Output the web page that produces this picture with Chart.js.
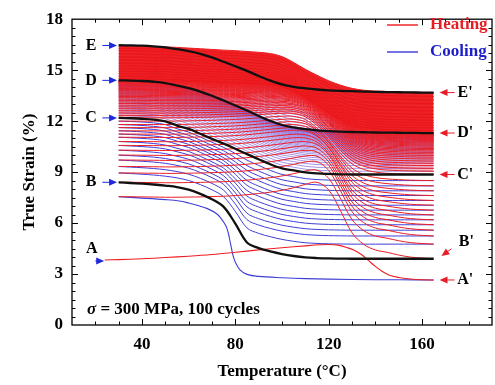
<!DOCTYPE html>
<html>
<head>
<meta charset="utf-8">
<script src="https://cdn.jsdelivr.net/npm/chart.js@4.4.0/dist/chart.umd.min.js"></script>
<style>
  html, body { margin: 0; padding: 0; background: #fff; }
</style>
</head>
<body>
<canvas id="myChart" width="495" height="385"></canvas>
<script>
// temperature grid (°C) used for the cycle curves
const tempGrid = [30, 35, 40, 45, 50, 55, 60, 65, 70, 75, 80, 85, 90, 95, 100, 105, 110, 115, 120, 125, 130, 135, 140, 145, 150, 155, 160, 165]

// curve shapes, as fraction of the way from hot strain (0) to cold strain (1)
// early = cycle 2, mid = cycle 16 (C), late = cycle 100 (E)
const heatEarly = [1, 1, 0.997, 0.995, 0.992, 0.992, 0.995, 0.997, 1.003, 1.008, 1.019, 1.033, 1.052, 1.074, 1.104, 1.145, 1.2, 1.233, 1.11, 0.781, 0.419, 0.233, 0.142, 0.104, 0.06, 0.027, 0.011, 0]
const heatMid = [1, 1, 1, 1, 1, 1.002, 1.005, 1.01, 1.016, 1.024, 1.032, 1.045, 1.062, 1.08, 1.092, 1.09, 1.03, 0.87, 0.65, 0.4, 0.2, 0.095, 0.045, 0.022, 0.012, 0.006, 0.002, 0]
const heatLate = [1, 1, 0.996, 0.989, 0.982, 0.971, 0.956, 0.942, 0.927, 0.912, 0.901, 0.883, 0.865, 0.839, 0.774, 0.646, 0.5, 0.372, 0.255, 0.161, 0.091, 0.051, 0.033, 0.022, 0.015, 0.007, 0.004, 0]
const coolEarly = [1, 0.991, 0.982, 0.971, 0.956, 0.938, 0.904, 0.849, 0.778, 0.678, 0.46, 0.213, 0.138, 0.096, 0.062, 0.036, 0.018, 0.009, 0.004, 0.002, 0, 0, 0, 0, 0, 0, 0, 0]
const coolMid = [1, 0.994, 0.985, 0.97, 0.94, 0.865, 0.805, 0.719, 0.63, 0.545, 0.455, 0.359, 0.269, 0.18, 0.108, 0.072, 0.036, 0.018, 0.009, 0.003, 0, 0, 0, 0, 0, 0, 0, 0]
const coolLate = [1, 0.996, 0.989, 0.975, 0.953, 0.917, 0.874, 0.819, 0.744, 0.65, 0.556, 0.458, 0.35, 0.253, 0.173, 0.123, 0.09, 0.065, 0.047, 0.036, 0.029, 0.022, 0.014, 0.011, 0.007, 0.004, 0, 0]

// first cycle, read point by point
const cycle1HeatT = [24, 30, 40, 50, 60, 70, 80, 90, 100, 110, 116, 120, 124, 128, 131, 134, 137, 140, 143, 146, 150, 155, 160, 165]
const cycle1HeatS = [3.83, 3.85, 3.9, 3.97, 4.05, 4.15, 4.28, 4.42, 4.55, 4.66, 4.72, 4.74, 4.7, 4.55, 4.4, 4.15, 3.8, 3.45, 3.15, 2.93, 2.8, 2.71, 2.66, 2.65]
const cycle1CoolT = [165, 150, 130, 110, 100, 90, 85, 82, 80, 79, 78, 77, 76, 74, 72, 68, 64, 60, 56, 50, 40, 30]
const cycle1CoolS = [2.65, 2.66, 2.68, 2.73, 2.78, 2.86, 2.98, 3.25, 3.7, 4.1, 4.75, 5.4, 5.83, 6.25, 6.55, 6.85, 7.03, 7.18, 7.3, 7.38, 7.47, 7.55]

// later cycles: strain at 30 °C (start of heating), strain at 165 °C, shape stage (0 early .. 2 late)
const cycleNo = [2, 3, 4, 5, 6, 7, 8, 9, 10, 11, 12, 13, 14, 15, 16,
    17, 18, 19, 20, 21, 22, 23, 24, 25, 26, 27, 28, 29, 30, 31, 32, 33, 34, 35, 36, 37, 38, 39, 40, 41, 42, 43, 44, 45, 46, 47, 48, 49, 50, 51,
    54, 58, 62, 66, 70, 74, 78, 82, 86, 90, 94, 97, 100]
const strainCold = [7.55, 8.4, 8.95, 9.33, 9.71, 10.0, 10.29, 10.57, 10.8, 11.05, 11.24, 11.43, 11.62, 11.8, 12.0,
    12.19, 12.34, 12.48, 12.61, 12.73, 12.84, 12.94, 13.04, 13.13, 13.22, 13.3, 13.38, 13.45, 13.52, 13.59, 13.65, 13.71, 13.77, 13.82, 13.87, 13.92, 13.97, 14.02, 14.06, 14.1, 14.14, 14.18, 14.22, 14.25, 14.28, 14.31, 14.34, 14.36, 14.38, 14.4,
    14.5, 14.65, 14.8, 14.95, 15.1, 15.25, 15.42, 15.6, 15.78, 15.96, 16.14, 16.28, 16.42]
const strainHot = [3.9, 4.76, 5.24, 5.58, 5.9, 6.19, 6.48, 6.76, 7.05, 7.33, 7.62, 7.9, 8.19, 8.5, 8.86,
    9.05, 9.22, 9.38, 9.52, 9.65, 9.77, 9.88, 9.98, 10.07, 10.16, 10.24, 10.32, 10.39, 10.46, 10.53, 10.59, 10.65, 10.71, 10.76, 10.81, 10.86, 10.91, 10.95, 10.99, 11.03, 11.07, 11.11, 11.14, 11.17, 11.2, 11.23, 11.25, 11.28, 11.3, 11.34,
    11.45, 11.6, 11.75, 11.9, 12.05, 12.22, 12.4, 12.6, 12.8, 13.02, 13.25, 13.45, 13.68]
const stage = [0, 0.1, 0.15, 0.2, 0.3, 0.35, 0.4, 0.5, 0.55, 0.6, 0.7, 0.75, 0.8, 0.9, 1.0,
    1.02, 1.04, 1.06, 1.08, 1.1, 1.12, 1.14, 1.16, 1.18, 1.2, 1.22, 1.24, 1.26, 1.28, 1.3, 1.32, 1.34, 1.36, 1.38, 1.4, 1.42, 1.44, 1.46, 1.48, 1.5, 1.52, 1.54, 1.56, 1.58, 1.6, 1.62, 1.64, 1.66, 1.68, 1.7,
    1.73, 1.76, 1.79, 1.82, 1.85, 1.88, 1.91, 1.94, 1.96, 1.98, 1.99, 2, 2]
const finalStrain = 16.47
const blackCycles = [2, 16, 50, 100]

const xTickValues = [40, 80, 120, 160]
const leftMarks = ["A", "B", "C", "D", "E"]
const leftMarkStrain = [3.77, 8.4, 12.19, 14.4, 16.45]
const rightMarks = ["A'", "B'", "C'", "D'", "E'"]
const rightMarkStrain = [2.65, 3.95, 8.86, 11.3, 13.68]

const heatColor = 'rgb(236, 30, 36)'
const coolColor = 'rgb(62, 62, 214)'
const coolDense = 'rgba(90, 60, 210, 0.7)'
const serif = "'Liberation Serif', 'Times New Roman', serif"

Chart.defaults.font.family = serif

function shapeAt(early, mid, late, st, k) {
    if (st <= 1) {
        return early[k] + (mid[k] - early[k]) * st
    }
    return mid[k] + (late[k] - mid[k]) * (st - 1)
}

let chronological = []

function lineSet(label, points, color, width, order) {
    return {
        label: label,
        data: points,
        borderColor: color,
        borderWidth: width,
        pointRadius: 0,
        tension: 0.35,
        fill: false,
        order: order
    }
}

chronological.push(lineSet('heat-1', cycle1HeatT.map(function (t, i) { return { x: t, y: cycle1HeatS[i] } }), heatColor, 1.1, 0))
chronological.push(lineSet('cool-1', cycle1CoolT.map(function (t, i) { return { x: t, y: cycle1CoolS[i] } }), coolColor, 1.1, 1))

for (let i = 0; i < cycleNo.length; i++) {
    const low = strainCold[i]
    const high = strainHot[i]
    const next = i + 1 < cycleNo.length ? strainCold[i + 1] : finalStrain

    const heatPts = tempGrid.map(function (t, k) {
        return { x: t, y: high + (low - high) * shapeAt(heatEarly, heatMid, heatLate, stage[i], k) }
    })
    const coolPts = tempGrid.map(function (t, k) {
        return { x: t, y: high + (next - high) * shapeAt(coolEarly, coolMid, coolLate, stage[i], k) }
    }).reverse()

    chronological.push(lineSet('heat-' + cycleNo[i], heatPts, heatColor, 1.0, 0))

    if (blackCycles.includes(cycleNo[i])) {
        chronological.push(lineSet('cool-' + cycleNo[i], coolPts, '#111', 2.3, -1))
    } else if (cycleNo[i] > 16) {
        chronological.push(lineSet('cool-' + cycleNo[i], coolPts, coolDense, 0.8, 1))
    } else {
        chronological.push(lineSet('cool-' + cycleNo[i], coolPts, coolColor, 1.0, 1))
    }
}

// first dataset is drawn on top, so put the last cycle first
const datasets = chronological.slice().reverse()
const idx = function (label) { return datasets.findIndex(function (d) { return d.label === label }) }

// dense band of the late cycles: solid red over everything below the last heating curve
datasets[idx('heat-100')].fill = { target: idx('heat-51') }
datasets[idx('heat-100')].backgroundColor = 'rgba(236, 20, 24, 0.94)'
// pale band under the lines of cycles 17 to 51
const band = lineSet('band', datasets[idx('heat-51')].data, 'rgba(0,0,0,0)', 0, 5)
band.fill = { target: idx('heat-17') }
band.backgroundColor = 'rgba(232, 80, 120, 0.42)'
datasets.push(band)

function arrow(ctx, x1, y1, x2, y2, color) {
    const ang = Math.atan2(y2 - y1, x2 - x1)
    ctx.strokeStyle = color
    ctx.fillStyle = color
    ctx.lineWidth = 1
    ctx.beginPath()
    ctx.moveTo(x1, y1)
    ctx.lineTo(x2 - 6 * Math.cos(ang), y2 - 6 * Math.sin(ang))
    ctx.stroke()
    ctx.beginPath()
    ctx.moveTo(x2, y2)
    ctx.lineTo(x2 - 8 * Math.cos(ang) + 3.5 * Math.sin(ang), y2 - 8 * Math.sin(ang) - 3.5 * Math.cos(ang))
    ctx.lineTo(x2 - 8 * Math.cos(ang) - 3.5 * Math.sin(ang), y2 - 8 * Math.sin(ang) + 3.5 * Math.cos(ang))
    ctx.closePath()
    ctx.fill()
}

const decor = {
    id: 'decor',
    afterDraw: function (chart) {
        const ctx = chart.ctx
        const xs = chart.scales.x
        const ys = chart.scales.y
        const a = chart.chartArea
        ctx.save()

        // frame and inward ticks
        ctx.strokeStyle = '#000'
        ctx.lineWidth = 1.3
        ctx.strokeRect(a.left, a.top, a.right - a.left, a.bottom - a.top)
        ctx.lineWidth = 1
        ctx.beginPath()
        for (let v = 20; v <= 180; v += 10) {
            const px = Math.round(xs.getPixelForValue(v)) + 0.5
            const len = xTickValues.includes(v) ? 6 : 3.5
            ctx.moveTo(px, a.bottom); ctx.lineTo(px, a.bottom - len)
            ctx.moveTo(px, a.top); ctx.lineTo(px, a.top + len)
        }
        for (let v = 0.5; v < 18; v += 0.5) {
            const py = Math.round(ys.getPixelForValue(v)) + 0.5
            const len = (v % 3 === 0) ? 6 : 3.5
            ctx.moveTo(a.left, py); ctx.lineTo(a.left + len, py)
            ctx.moveTo(a.right, py); ctx.lineTo(a.right - len, py)
        }
        ctx.stroke()

        // cycle marks
        ctx.font = 'bold 16px ' + serif
        ctx.textAlign = 'center'
        ctx.textBaseline = 'middle'
        for (let i = 0; i < leftMarks.length; i++) {
            const py = ys.getPixelForValue(leftMarkStrain[i])
            ctx.fillStyle = '#000'
            if (i === 0) {
                ctx.fillText(leftMarks[i], xs.getPixelForValue(18.5), py - 12)
                arrow(ctx, xs.getPixelForValue(20), py, xs.getPixelForValue(23.8), py, 'rgb(30, 40, 220)')
            } else {
                ctx.fillText(leftMarks[i], xs.getPixelForValue(18.2), py)
                arrow(ctx, xs.getPixelForValue(23), py, xs.getPixelForValue(29.3), py, 'rgb(30, 40, 220)')
            }
        }
        for (let i = 0; i < rightMarks.length; i++) {
            const py = ys.getPixelForValue(rightMarkStrain[i])
            ctx.fillStyle = '#000'
            if (i === 1) {
                ctx.fillText(rightMarks[i], xs.getPixelForValue(179), py - 16)
                arrow(ctx, xs.getPixelForValue(172.6), py - 9, xs.getPixelForValue(168.3), py - 2, 'rgb(230, 30, 40)')
            } else {
                ctx.fillText(rightMarks[i], xs.getPixelForValue(178.5), py)
                arrow(ctx, xs.getPixelForValue(174), py, xs.getPixelForValue(167.5), py, 'rgb(230, 30, 40)')
            }
        }

        // legend
        ctx.font = 'bold 17px ' + serif
        ctx.textAlign = 'left'
        ctx.lineWidth = 1.5
        ctx.strokeStyle = 'rgb(238, 40, 44)'
        ctx.beginPath(); ctx.moveTo(387, 25); ctx.lineTo(418, 25); ctx.stroke()
        ctx.fillStyle = 'rgb(228, 30, 36)'
        ctx.fillText('Heating', 430, 25)
        ctx.strokeStyle = 'rgb(70, 70, 220)'
        ctx.beginPath(); ctx.moveTo(387, 52); ctx.lineTo(418, 52); ctx.stroke()
        ctx.fillStyle = 'rgb(30, 30, 200)'
        ctx.fillText('Cooling', 430, 52)

        // note
        ctx.fillStyle = '#000'
        ctx.font = 'italic bold 17px ' + serif
        ctx.fillText('σ', 87, 310)
        const w = ctx.measureText('σ').width
        ctx.font = 'bold 17px ' + serif
        ctx.fillText(' = 300 MPa, 100 cycles', 87 + w, 310)

        ctx.restore()
    }
}

const config = {
    type: 'line',
    data: { datasets: datasets },
    options: {
        responsive: false,
        animation: false,
        events: [],
        layout: { padding: { top: 11, right: 3, left: 0, bottom: 0 } },
        plugins: { legend: { display: false }, tooltip: { enabled: false } },
        scales: {
            x: {
                type: 'linear',
                min: 10,
                max: 190,
                afterBuildTicks: function (scale) {
                    scale.ticks = xTickValues.map(function (v) { return { value: v } })
                },
                afterFit: function (scale) { scale.height = 60 },
                grid: { display: false, drawTicks: false },
                border: { display: false },
                ticks: { color: '#000', padding: 9, maxRotation: 0, font: { size: 17, weight: 'bold' } },
                title: { display: true, text: 'Temperature (°C)', color: '#000', padding: { top: 0, bottom: 3 }, font: { size: 17, weight: 'bold' } }
            },
            y: {
                min: 0,
                max: 18,
                afterFit: function (scale) { scale.width = 72 },
                grid: { display: false, drawTicks: false },
                border: { display: false },
                ticks: { stepSize: 3, color: '#000', padding: 9, font: { size: 17, weight: 'bold' } },
                title: { display: true, text: 'True Strain (%)', color: '#000', padding: { top: 19, bottom: 0 }, font: { size: 17, weight: 'bold' } }
            }
        }
    },
    plugins: [decor]
}

const myChart = new Chart(document.getElementById('myChart'), config)
</script>
</body>
</html>
